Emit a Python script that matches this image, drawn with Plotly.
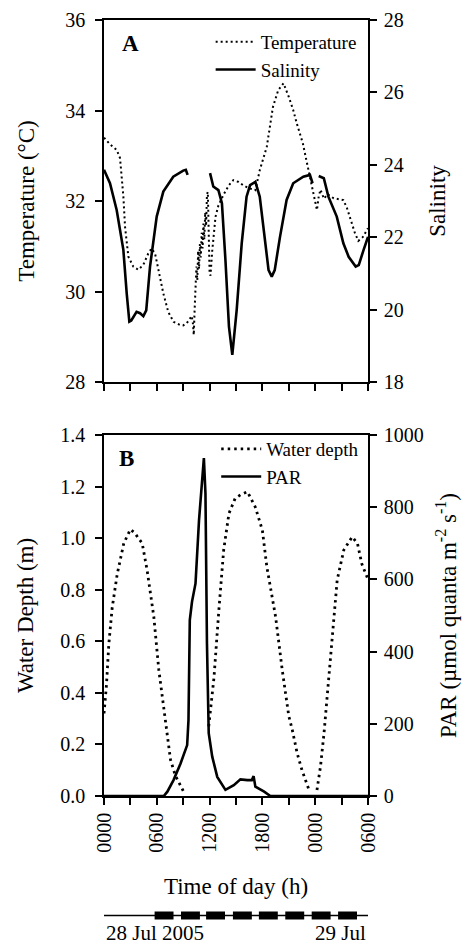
import plotly.graph_objects as go

FONT = "Liberation Serif"

# ---------------- Data ----------------
# Panel A: temperature (deg C) vs time (hours since 0000 on 28 Jul)
temp_hours = [0, 0.7, 1.44, 1.82, 2.2, 2.39, 2.77, 3.33, 3.9, 4.47, 5.03, 5.4, 5.8, 6.17, 6.74,
              7.3, 7.9, 8.64, 9.0, 9.4, 9.7, 9.97, 10.1, 10.2, 10.3,
              10.4, 10.5, 10.6, 10.7, 10.8, 10.9, 11.0, 11.1, 11.2, 11.3, 11.4, 11.5, 11.6, 11.7,
              11.8, 11.9, 12.0, 12.1, 12.3, 12.67, 13.0, 13.56, 14.2, 14.7, 15.3, 15.8, 16.5, 17.2,
              17.7, 18.5, 19.2, 19.8, 20.4, 21.0, 21.5, 21.9, 22.6, 23.0, 23.7, 24.0, 24.2, 24.4,
              24.6, 25.0, 25.4, 26.1, 27.2, 27.6, 28.0, 28.5, 28.9, 29.4, 30.0]
temp_values = [33.40, 33.25, 33.13, 32.95, 32.10, 31.43, 30.77, 30.55, 30.48, 30.59, 30.84, 30.95,
               30.84, 30.48, 29.96, 29.55, 29.33, 29.26, 29.25, 29.30, 29.40, 29.46, 29.30, 29.04, 29.60,
               29.95, 30.55, 30.25, 30.90, 30.50, 31.05, 30.75, 31.30, 30.95, 31.50, 31.15, 31.75, 31.45, 32.15,
               32.20, 31.30, 30.40, 30.35, 30.90, 31.65, 31.90, 32.13, 32.35, 32.46, 32.42, 32.35, 32.28, 32.24,
               32.68, 33.20, 34.08, 34.45, 34.60, 34.30, 34.01, 33.72, 33.27, 32.90, 32.24, 32.00, 31.80, 32.10,
               32.25, 32.05, 32.15, 32.06, 32.02, 31.85, 31.58, 31.30, 31.12, 31.20, 31.40]

# Panel A: salinity (None = gap in record)
sal_hours = [0, 0.68, 1.44, 2.2, 2.58, 2.88, 3.1, 3.7, 4.1, 4.47, 4.8, 5.23, 5.99, 6.74, 7.87, 9.0,
             9.3, 9.5, 10.8,
             12.05, 12.42, 13.0, 13.4, 13.8, 14.2, 14.58, 15.08, 15.65, 16.2, 16.6, 17.2, 17.7, 18.3,
             18.7, 19.06, 19.4, 20.0, 20.75, 21.5, 22.65, 23.4, 23.7, 24.0,
             24.4, 24.98, 25.5, 26.45, 27.2, 27.8, 28.6, 28.95, 29.5, 30.0]
sal_values = [23.86, 23.49, 22.75, 21.65, 20.45, 19.67, 19.70, 19.94, 19.90, 19.82, 19.98, 21.19,
              22.57, 23.26, 23.67, 23.84, 23.86, 23.72, None,
              23.77, 23.40, 23.30, 22.94, 21.37, 19.53, 18.75, 19.99, 21.83, 23.12, 23.44, 23.53,
              23.12, 21.83, 21.09, 20.91, 21.09, 22.01, 23.03, 23.49, 23.67, 23.72, 23.49, None,
              23.69, 23.63, 23.12, 22.57, 21.83, 21.46, 21.19, 21.23, 21.65, 22.01]

# Panel B: water depth (m)
depth_hours = [0, 0.28, 0.55, 0.93, 1.5, 2.25, 3.0, 3.5, 3.9, 4.34, 4.9, 5.66, 6.23, 6.8, 7.0,
               7.56, 8.1, 8.7, 9.0, 10.5,
               11.9, 12.5, 13.05, 13.6, 14.2, 14.9, 15.6, 16.3, 17.2, 18.0, 18.5, 19.5, 20.25, 21.0,
               21.4, 21.95, 22.5, 23.3, 23.8,
               24.2, 24.6, 25.0, 25.4, 25.9, 26.5, 27.25, 28.2, 28.8, 29.3, 30.0]
depth_values = [0.32, 0.43, 0.59, 0.73, 0.86, 0.98, 1.034, 1.02, 1.00, 0.98, 0.876, 0.695, 0.489,
                0.333, 0.295, 0.14, 0.08, 0.036, 0.02, None,
                0.27, 0.46, 0.72, 0.954, 1.096, 1.154, 1.17, 1.18, 1.12, 1.03, 0.89, 0.695, 0.49,
                0.31, 0.256, 0.166, 0.10, 0.023, None,
                0.023, 0.114, 0.243, 0.40, 0.62, 0.838, 0.954, 1.005, 0.98, 0.90, 0.84]

# Panel B: PAR (umol quanta m-2 s-1)
par_hours = [0, 6.8, 7.2, 7.9, 8.7, 9.45, 9.6, 9.75, 10.0, 10.4, 10.8, 11.15, 11.35, 11.53, 11.7,
             11.9, 12.3, 12.87, 13.8, 14.75, 15.5, 16.3, 16.8, 17.0, 17.1, 17.2, 18.2, 18.9, 30.0]
par_values = [0, 0, 12, 44, 90, 141, 210, 487, 538, 589, 765, 885, 936, 838, 423,
              174, 109, 53, 17, 30, 46, 44, 44, 55, 38, 26, 12, 0, 0]

# Time axis ticks
tick_hours = [0, 3, 6, 9, 12, 15, 18, 21, 24, 27, 30]
label_hours = [0, 6, 12, 18, 24, 30]
label_text = ["0000", "0600", "1200", "1800", "0000", "0600"]
minor_hours = [3, 9, 15, 21, 27]

# Timeline blocks under the chart (start hour of each block, block length in hours)
block_starts = [5.75, 8.75, 11.6, 14.65, 17.6, 20.6, 23.6, 26.6]
block_length = 2.15
timeline_labels = ["28 Jul 2005", "29 Jul"]

# ---------------- Figure ----------------
fig = go.Figure()

fig.add_trace(go.Scatter(x=temp_hours, y=temp_values, name="Temperature", mode="lines",
                         line=dict(color="black", width=2, dash="2px,3px"),
                         xaxis="x", yaxis="y", legend="legend"))
fig.add_trace(go.Scatter(x=sal_hours, y=sal_values, name="Salinity", mode="lines",
                         line=dict(color="black", width=2.6),
                         xaxis="x", yaxis="y2", legend="legend"))
fig.add_trace(go.Scatter(x=depth_hours, y=depth_values, name="Water depth", mode="lines",
                         line=dict(color="black", width=2.8, dash="2.5px,4px"),
                         xaxis="x2", yaxis="y3", legend="legend2"))
fig.add_trace(go.Scatter(x=par_hours, y=par_values, name="PAR", mode="lines",
                         line=dict(color="black", width=2.6),
                         xaxis="x2", yaxis="y4", legend="legend2"))

axis_common = dict(showgrid=False, zeroline=False, ticks="outside", ticklen=7, tickwidth=1.5,
                   linecolor="black", linewidth=1.5, tickcolor="black", automargin=False,
                   tickfont=dict(family=FONT, size=20, color="black"))
title_font = dict(family=FONT, size=23, color="black")
minor_x = dict(tickvals=minor_hours, ticks="outside", ticklen=7, tickwidth=1.5,
               tickcolor="black", showgrid=False)

H = 945
topA, botA = 20, 382
topB, botB = 435, 796

fig.update_layout(
    width=468, height=H,
    margin=dict(l=104, r=100, t=0, b=0),
    paper_bgcolor="white", plot_bgcolor="white",
    font=dict(family=FONT, color="black"),
    xaxis=dict(domain=[0, 1], anchor="y", range=[0, 30], tickvals=tick_hours,
               showticklabels=False, mirror=True, **axis_common),
    yaxis=dict(domain=[1 - botA / H, 1 - topA / H], anchor="x", range=[28, 36], dtick=2,
               ticklabelstandoff=6,
               title=dict(text="Temperature (°C)", font=title_font, standoff=24), **axis_common),
    yaxis2=dict(overlaying="y", side="right", anchor="x", range=[18, 28], dtick=2,
                ticklabelstandoff=3,
                title=dict(text="Salinity", font=title_font, standoff=26), **axis_common),
    xaxis2=dict(domain=[0, 1], anchor="y3", range=[0, 30], tickvals=label_hours, ticktext=label_text,
                tickangle=-90, mirror=True, minor=minor_x,
                title=dict(text="Time of day (h)", font=title_font, standoff=26), **axis_common),
    yaxis3=dict(domain=[1 - botB / H, 1 - topB / H], anchor="x2", range=[0, 1.4], dtick=0.2,
                tickformat=".1f", ticklabelstandoff=6,
                title=dict(text="Water Depth (m)", font=title_font, standoff=20), **axis_common),
    yaxis4=dict(overlaying="y3", side="right", anchor="x2", range=[0, 1000], dtick=200,
                ticklabelstandoff=3,
                title=dict(text="PAR (µmol quanta m<sup>-2</sup> s<sup>-1</sup>)", font=title_font,
                           standoff=17), **axis_common),
    legend=dict(x=0.404, y=1 - 23 / H, xanchor="left", yanchor="top", bgcolor="rgba(0,0,0,0)",
                font=dict(family=FONT, size=19, color="black"), tracegroupgap=0, itemwidth=40),
    legend2=dict(x=0.425, y=1 - 430 / H, xanchor="left", yanchor="top", bgcolor="rgba(0,0,0,0)",
                 font=dict(family=FONT, size=19, color="black"), tracegroupgap=0, itemwidth=40),
    showlegend=True,
)

# Panel letters
fig.add_annotation(text="<b>A</b>", xref="x domain", yref="y domain", x=0.06, y=0.936,
                   xanchor="left", yanchor="middle", showarrow=False,
                   font=dict(family=FONT, size=23, color="black"))
fig.add_annotation(text="<b>B</b>", xref="x2 domain", yref="y3 domain", x=0.05, y=0.936,
                   xanchor="left", yanchor="middle", showarrow=False,
                   font=dict(family=FONT, size=23, color="black"))

# Timeline under the chart
line_y = 1 - 915.5 / H
fig.add_shape(type="line", xref="x2", yref="paper", x0=0, x1=30, y0=line_y, y1=line_y,
              line=dict(color="black", width=1.5))
for s in block_starts:
    fig.add_shape(type="rect", xref="x2", yref="paper", x0=s, x1=s + block_length,
                  y0=1 - 919.5 / H, y1=1 - 911.5 / H,
                  fillcolor="black", line=dict(color="black", width=0))
fig.add_annotation(text=timeline_labels[0], xref="x2", yref="paper", x=0, y=1 - 933 / H,
                   xanchor="left", yanchor="middle", showarrow=False,
                   font=dict(family=FONT, size=21, color="black"))
fig.add_annotation(text=timeline_labels[1], xref="x2", yref="paper", x=30, y=1 - 933 / H,
                   xanchor="right", yanchor="middle", showarrow=False,
                   font=dict(family=FONT, size=21, color="black"))

fig.write_html("out.html", config={"displayModeBar": False},
               post_script="document.body.style.margin='0';")
